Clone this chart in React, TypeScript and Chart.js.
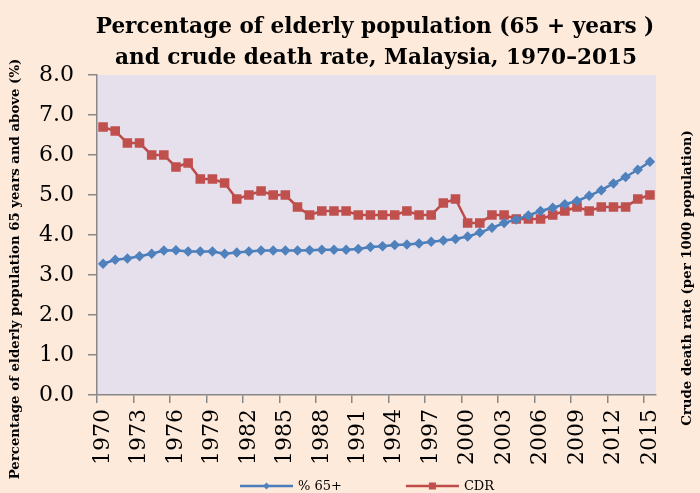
import React, { useEffect, useRef } from 'react';
import { Chart, registerables } from 'chart.js';

Chart.register(...registerables);

const years = [
  '1970', '1971', '1972', '1973', '1974', '1975', '1976', '1977', '1978', '1979',
  '1980', '1981', '1982', '1983', '1984', '1985', '1986', '1987', '1988', '1989',
  '1990', '1991', '1992', '1993', '1994', '1995', '1996', '1997', '1998', '1999',
  '2000', '2001', '2002', '2003', '2004', '2005', '2006', '2007', '2008', '2009',
  '2010', '2011', '2012', '2013', '2014', '2015',
];

const elderlyPct = [
  3.28, 3.38, 3.41, 3.47, 3.53, 3.61, 3.62, 3.59, 3.59, 3.59,
  3.53, 3.56, 3.59, 3.61, 3.61, 3.61, 3.61, 3.62, 3.63, 3.63,
  3.63, 3.65, 3.70, 3.72, 3.75, 3.76, 3.79, 3.83, 3.86, 3.90,
  3.96, 4.06, 4.18, 4.30, 4.39, 4.49, 4.60, 4.68, 4.77, 4.85,
  4.98, 5.12, 5.29, 5.45, 5.63, 5.83,
];

const cdr = [
  6.7, 6.6, 6.3, 6.3, 6.0, 6.0, 5.7, 5.8, 5.4, 5.4,
  5.3, 4.9, 5.0, 5.1, 5.0, 5.0, 4.7, 4.5, 4.6, 4.6,
  4.6, 4.5, 4.5, 4.5, 4.5, 4.6, 4.5, 4.5, 4.8, 4.9,
  4.3, 4.3, 4.5, 4.5, 4.4, 4.4, 4.4, 4.5, 4.6, 4.7,
  4.6, 4.7, 4.7, 4.7, 4.9, 5.0,
];

const seriesNames = ['% 65+', 'CDR'];
const titleLines = ['Percentage of elderly population (65 + years )', 'and crude death rate, Malaysia, 1970\u20132015'];
const leftTitle = 'Percentage of elderly population 65 years and above (%)';
const rightTitle = 'Crude death rate (per 1000 population)';

const BG = '#FDEADA';
const PLOT_BG = '#E6E0EC';
const AXIS = '#888888';
const BLUE = '#4A7EBB';
const RED = '#BE4B48';

const decor = {
  id: 'decor',
  beforeDraw(chart: any) {
    const { ctx, chartArea: a, width, height } = chart;
    ctx.save();
    ctx.fillStyle = BG;
    ctx.fillRect(0, 0, width, height);
    ctx.fillStyle = PLOT_BG;
    ctx.fillRect(a.left, a.top, a.right - a.left, a.bottom - a.top);
    ctx.restore();
  },
  afterDraw(chart: any) {
    const { ctx } = chart;
    ctx.save();
    ctx.fillStyle = '#000';
    ctx.textAlign = 'center';
    ctx.textBaseline = 'alphabetic';
    ctx.font = 'bold 21.6px "DejaVu Serif"';
    ctx.fillText(titleLines[0], 375, 33);
    ctx.fillText(titleLines[1], 376, 64);

    ctx.font = 'bold 13.3px "DejaVu Serif"';
    ctx.textBaseline = 'middle';
    ctx.save();
    ctx.translate(16, 269);
    ctx.rotate(-Math.PI / 2);
    ctx.fillText(leftTitle, 0, 0);
    ctx.restore();
    ctx.save();
    ctx.translate(688, 278);
    ctx.rotate(-Math.PI / 2);
    ctx.fillText(rightTitle, 0, 0);
    ctx.restore();

    // legend
    ctx.font = '13px "DejaVu Serif"';
    ctx.textAlign = 'left';
    let x = 240;
    const y = 486;
    chart.data.datasets.forEach((ds: any) => {
      ctx.strokeStyle = ds.borderColor;
      ctx.lineWidth = 2.5;
      ctx.beginPath();
      ctx.moveTo(x, y);
      ctx.lineTo(x + 53, y);
      ctx.stroke();
      const cx = x + 26.5;
      ctx.fillStyle = ds.pointBackgroundColor;
      ctx.beginPath();
      if (ds.pointStyle === 'rectRot') {
        ctx.moveTo(cx, y - 3.5);
        ctx.lineTo(cx + 3.5, y);
        ctx.lineTo(cx, y + 3.5);
        ctx.lineTo(cx - 3.5, y);
        ctx.closePath();
      } else {
        ctx.rect(cx - 3.5, y - 3.5, 7, 7);
      }
      ctx.fill();
      ctx.fillStyle = '#000';
      ctx.fillText(ds.label, x + 58, y + 1);
      const w = ctx.measureText(ds.label).width;
      x += 58 + w + 64;
    });
    ctx.restore();
  },
};

export default function App() {
  const ref = useRef<HTMLCanvasElement | null>(null);
  useEffect(() => {
    if (!ref.current) return;
    const chart = new Chart(ref.current, {
      type: 'line',
      data: {
        labels: years,
        datasets: [
          {
            label: seriesNames[0],
            data: elderlyPct,
            borderColor: BLUE,
            backgroundColor: BLUE,
            pointBackgroundColor: '#4F81BD',
            pointBorderColor: '#4F81BD',
            pointStyle: 'rectRot',
            pointRadius: 3.5,
            borderWidth: 2.5,
            tension: 0,
          },
          {
            label: seriesNames[1],
            data: cdr,
            borderColor: RED,
            backgroundColor: RED,
            pointBackgroundColor: '#C0504D',
            pointBorderColor: '#C0504D',
            pointStyle: 'rect',
            pointRadius: 5,
            borderWidth: 2.5,
            tension: 0,
          },
        ],
      } as any,
      options: {
        animation: false,
        responsive: false,
        layout: { padding: { left: 0, right: 44, top: 75, bottom: 0 } },
        plugins: {
          legend: { display: false },
          title: { display: false },
          tooltip: { enabled: false },
        },
        scales: {
          x: {
            offset: true,
            afterFit: (s: any) => { s.height = 98; },
            grid: {
              offset: true,
              drawOnChartArea: false,
              drawTicks: true,
              tickLength: 8,
              color: (c: any) => (c.index % 3 === 0 ? AXIS : 'rgba(0,0,0,0)'),
              lineWidth: 1.5,
            },
            border: { color: AXIS, width: 1.5 },
            ticks: {
              autoSkip: false,
              maxRotation: 90,
              minRotation: 90,
              padding: 6,
              color: '#000',
              font: { family: '"DejaVu Serif"', size: 22 },
              callback: (_v: any, i: number) => (i % 3 === 0 ? years[i] : ''),
            },
          },
          y: {
            min: 0,
            max: 8,
            afterFit: (s: any) => { s.width = 97; },
            grid: {
              drawOnChartArea: false,
              drawTicks: true,
              tickLength: 9,
              color: AXIS,
              lineWidth: 1.5,
            },
            border: { color: AXIS, width: 1.5 },
            ticks: {
              stepSize: 1,
              padding: 14,
              color: '#000',
              font: { family: '"DejaVu Serif"', size: 22 },
              callback: (v: any) => Number(v).toFixed(1),
            },
          },
        },
      } as any,
      plugins: [decor],
    });
    return () => chart.destroy();
  }, []);
  return (
    <div style={{ position: 'absolute', left: 0, top: 0, width: 700, height: 493, background: BG }}>
      <canvas ref={ref} width={700} height={493} style={{ display: 'block', width: 700, height: 493 }} />
    </div>
  );
}
